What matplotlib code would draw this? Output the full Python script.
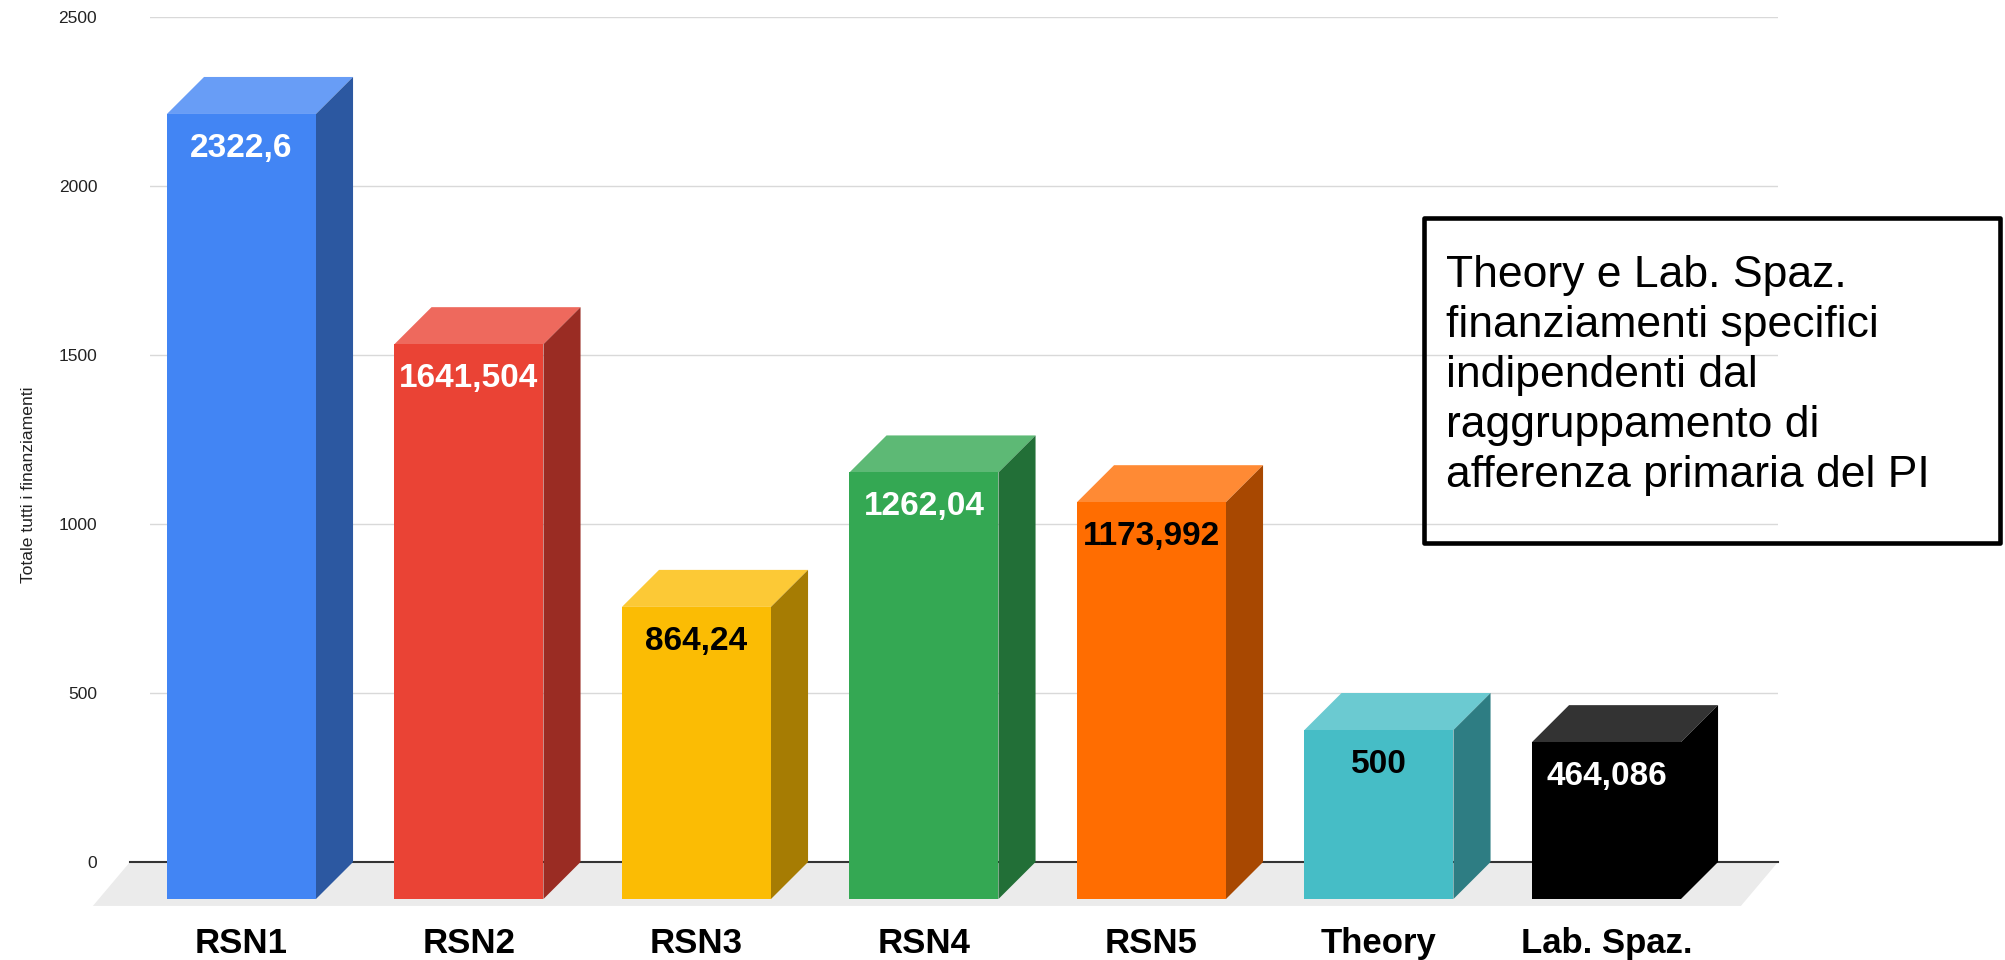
import numpy as np
import matplotlib
matplotlib.use("Agg")
import matplotlib.pyplot as plt
from matplotlib.patches import Polygon, Rectangle
from matplotlib.colors import to_rgb

plt.rcParams["font.family"] = ["Liberation Sans", "DejaVu Sans"]

CATEGORIES = ["RSN1", "RSN2", "RSN3", "RSN4", "RSN5", "Theory", "Lab. Spaz."]
VALUES = [2322.6, 1641.504, 864.24, 1262.04, 1173.992, 500, 464.086]
COLORS = ["#4285F4", "#EA4335", "#FBBC04", "#34A853", "#FF6D01", "#46BDC6", "#000000"]
LABEL_COLORS = ["white", "white", "black", "white", "black", "black", "white"]
Y_TICKS = [0, 500, 1000, 1500, 2000, 2500]
Y_LABEL = "Totale tutti i finanziamenti"
NOTE = ("Theory e Lab. Spaz.\nfinanziamenti specifici\nindipendenti dal\n"
        "raggruppamento di\nafferenza primaria del PI")

# fake 3D look (Google Sheets style)
BAR_W = 0.655      # front face width, category units
DEPTH_X = 0.163    # depth offset, category units
DEPTH_Y = 109.5    # depth offset, value units
FLOOR_DY = 130     # floor reaches a bit in front of the bars
FLOOR_EXTRA = 0.088


def lighten(c, f=0.2):
    r, g, b = to_rgb(c)
    return (r + (1 - r) * f, g + (1 - g) * f, b + (1 - b) * f)


def darken(c, f=0.66):
    r, g, b = to_rgb(c)
    return (r * f, g * f, b * f)


def fmt(v):
    s = f"{v:.3f}".rstrip("0").rstrip(".")
    return s.replace(".", ",")


fig = plt.figure(figsize=(20.06, 9.6), dpi=100)
ax = fig.add_axes([150 / 2006, 98 / 960, 1628 / 2006, 845 / 960])

x = np.arange(len(CATEGORIES))
ax.set_xlim(-0.402, 6.754)
ax.set_ylim(0, 2500)
x0, x1 = ax.get_xlim()

ax.set_yticks(Y_TICKS)
ax.grid(axis="y", color="#d9d9d9", lw=1.0)
ax.set_axisbelow(True)
for s in ax.spines.values():
    s.set_visible(False)

# floor + zero line
floor = Polygon([(x0 - FLOOR_EXTRA, 0), (x1, 0),
                 (x1 - DEPTH_X, -FLOOR_DY), (x0 - FLOOR_EXTRA - DEPTH_X, -FLOOR_DY)],
                closed=True, fc="#ebebeb", ec="none", clip_on=False, zorder=1)
ax.add_patch(floor)
ax.plot([x0 - FLOOR_EXTRA, x1], [0, 0], color="#333333", lw=1.5,
        clip_on=False, zorder=2)

# front faces
ax.bar(x, VALUES, width=BAR_W, bottom=-DEPTH_Y, color=COLORS,
       clip_on=False, zorder=4)

# top and side faces
for i, v in enumerate(VALUES):
    l, r = i - BAR_W / 2, i + BAR_W / 2
    top = Polygon([(l, v - DEPTH_Y), (r, v - DEPTH_Y), (r + DEPTH_X, v), (l + DEPTH_X, v)],
                  closed=True, fc=lighten(COLORS[i]), ec="none", clip_on=False, zorder=3)
    side = Polygon([(r, -DEPTH_Y), (r, v - DEPTH_Y), (r + DEPTH_X, v), (r + DEPTH_X, 0)],
                   closed=True, fc=darken(COLORS[i]), ec="none", clip_on=False, zorder=3)
    ax.add_patch(top)
    ax.add_patch(side)
    ax.annotate(fmt(v), (i, v - DEPTH_Y), xytext=(0, -31), textcoords="offset points",
                ha="center", va="baseline", fontsize=24, fontweight="bold",
                color=LABEL_COLORS[i], zorder=6)

ax.set_xticks(x, CATEGORIES, fontsize=25, fontweight="bold")
ax.tick_params(axis="x", length=0, pad=47)
ax.tick_params(axis="y", length=0, pad=38, labelsize=12.5, labelcolor="#222222")

ax.set_ylabel(Y_LABEL, fontsize=12.6, color="#222222")
ax.yaxis.set_label_coords(-0.0703, 0.447)

# note box
fig.patches.append(Rectangle((1424 / 2006, (960 - 543) / 960), 576 / 2006, 325 / 960,
                             transform=fig.transFigure, fill=False, ec="black",
                             lw=3.3, joinstyle="round"))
fig.text(1446 / 2006, (960 - 255) / 960, NOTE, fontsize=32, ha="left",
         va="top", linespacing=1.28)

fig.savefig("out.png", dpi=100)
